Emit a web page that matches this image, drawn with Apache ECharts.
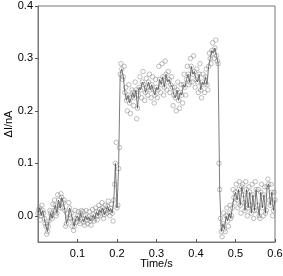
<!DOCTYPE html>
<html><head><meta charset="utf-8">
<script src="https://cdn.jsdelivr.net/npm/echarts@6/dist/echarts.min.js"></script>
<style>html,body{margin:0;padding:0;background:#fff}#c{width:283px;height:276px}</style>
</head><body><div id="c"></div>
<script>
var times = [0.000,0.004,0.008,0.012,0.016,0.020,0.024,0.028,0.032,0.036,0.040,0.044,0.048,0.052,0.056,0.060,0.064,0.068,0.072,0.076,
0.080,0.084,0.088,0.092,0.096,0.100,0.104,0.108,0.112,0.116,0.120,0.124,0.128,0.132,0.136,0.140,0.144,0.148,0.152,0.156,
0.160,0.164,0.168,0.172,0.176,0.180,0.184,0.188,0.192,0.196,0.200,0.204,0.208,0.212,0.216,0.220,0.224,0.228,0.232,0.236,
0.240,0.244,0.248,0.252,0.256,0.260,0.264,0.268,0.272,0.276,0.280,0.284,0.288,0.292,0.296,0.300,0.304,0.308,0.312,0.316,
0.320,0.324,0.328,0.332,0.336,0.340,0.344,0.348,0.352,0.356,0.360,0.364,0.368,0.372,0.376,0.380,0.384,0.388,0.392,0.396,
0.400,0.404,0.408,0.412,0.416,0.420,0.424,0.428,0.432,0.436,0.440,0.444,0.448,0.452,0.456,0.460,0.464,0.468,0.472,0.476,
0.480,0.484,0.488,0.492,0.496,0.500,0.504,0.508,0.512,0.516,0.520,0.524,0.528,0.532,0.536,0.540,0.544,0.548,0.552,0.556,
0.560,0.564,0.568,0.572,0.576,0.580,0.584,0.588,0.592,0.596,0.600];
var current = [0.005,0.015,0.000,0.010,-0.005,-0.020,-0.030,-0.010,0.005,-0.005,0.010,0.020,0.005,0.030,0.015,0.035,0.025,0.010,-0.015,-0.005,
0.015,0.005,-0.010,-0.020,-0.005,0.000,-0.010,0.005,-0.005,-0.012,0.000,-0.008,-0.002,-0.010,-0.005,0.002,-0.006,0.008,0.000,0.012,
0.005,0.015,0.002,0.010,0.018,0.008,0.014,0.005,0.030,0.100,0.015,0.090,0.270,0.280,0.265,0.235,0.220,0.230,0.215,0.225,
0.235,0.225,0.240,0.205,0.245,0.240,0.255,0.250,0.235,0.245,0.255,0.240,0.250,0.240,0.230,0.245,0.240,0.260,0.250,0.265,
0.245,0.270,0.255,0.260,0.250,0.245,0.230,0.225,0.240,0.220,0.235,0.230,0.250,0.245,0.260,0.270,0.255,0.285,0.270,0.275,
0.260,0.255,0.270,0.240,0.255,0.250,0.265,0.250,0.285,0.300,0.315,0.310,0.320,0.305,0.290,0.050,-0.030,-0.015,-0.025,0.000,
-0.010,0.005,-0.005,0.015,0.035,0.045,0.030,0.050,0.020,0.055,0.040,0.010,0.050,0.015,0.045,0.005,0.040,0.010,0.050,0.020,
0.000,0.045,0.015,0.040,0.005,0.055,0.060,0.020,0.045,0.010,0.030];
var rawTimes = [0.002,0.006,0.010,0.014,0.018,0.022,0.026,0.030,0.034,0.038,0.042,0.046,0.050,0.054,0.058,0.062,0.066,0.070,0.074,0.078,
0.082,0.086,0.090,0.094,0.098,0.102,0.106,0.110,0.114,0.118,0.122,0.126,0.130,0.134,0.138,0.142,0.146,0.150,0.154,0.158,
0.162,0.166,0.170,0.174,0.178,0.182,0.186,0.190,0.194,0.198,0.202,0.206,0.210,0.214,0.218,0.222,0.226,0.230,0.234,0.238,
0.242,0.246,0.250,0.254,0.258,0.262,0.266,0.270,0.274,0.278,0.282,0.286,0.290,0.294,0.298,0.302,0.306,0.310,0.314,0.318,
0.322,0.326,0.330,0.334,0.338,0.342,0.346,0.350,0.354,0.358,0.362,0.366,0.370,0.374,0.378,0.382,0.386,0.390,0.394,0.398,
0.402,0.406,0.410,0.414,0.418,0.422,0.426,0.430,0.434,0.438,0.442,0.446,0.450,0.454,0.458,0.462,0.466,0.470,0.474,0.478,
0.482,0.486,0.490,0.494,0.498,0.502,0.506,0.510,0.514,0.518,0.522,0.526,0.530,0.534,0.538,0.542,0.546,0.550,0.554,0.558,
0.562,0.566,0.570,0.574,0.578,0.582,0.586,0.590,0.594,0.598];
var rawCurrent = [0.012,-0.008,0.020,0.005,-0.015,-0.035,-0.020,0.010,0.000,0.022,0.030,0.000,0.040,0.020,0.042,0.015,0.030,-0.020,0.005,0.025,
-0.005,-0.020,-0.028,0.010,-0.012,0.008,-0.015,0.010,0.008,-0.018,0.010,-0.015,0.008,-0.018,0.012,-0.010,0.015,-0.008,0.020,0.000,
0.025,-0.005,0.020,0.005,0.028,0.000,0.022,-0.010,0.060,0.140,0.020,0.130,0.290,0.260,0.285,0.245,0.200,0.250,0.195,0.240,
0.210,0.255,0.185,0.230,0.265,0.225,0.275,0.220,0.262,0.230,0.270,0.225,0.265,0.215,0.260,0.225,0.285,0.235,0.290,0.230,
0.295,0.240,0.275,0.235,0.265,0.210,0.245,0.200,0.255,0.205,0.250,0.215,0.270,0.230,0.285,0.250,0.300,0.255,0.305,0.245,
0.280,0.235,0.290,0.225,0.270,0.235,0.280,0.240,0.310,0.290,0.330,0.300,0.335,0.295,0.100,-0.005,-0.040,0.005,-0.030,0.015,
-0.020,0.020,0.000,0.050,0.025,0.060,0.015,0.065,0.005,0.060,0.025,0.065,0.000,0.055,0.020,0.060,-0.005,0.065,0.010,0.050,
-0.005,0.060,0.000,0.055,0.010,0.070,0.030,0.060,0.000,0.045];
var xTicks = [0.1,0.2,0.3,0.4,0.5,0.6];
var yTicks = [0.0,0.1,0.2,0.3,0.4];

var pts = times.map(function(t,i){return [t,current[i]];});
var rawPts = rawTimes.map(function(t,i){return [t,rawCurrent[i]];});
var chart = echarts.init(document.getElementById('c'));
var font = 'Liberation Sans, Arial, sans-serif';
var ring = {color:'rgba(0,0,0,0)',borderColor:'#8a8a8a',borderWidth:0.7};
chart.setOption({
  animation:false,
  grid:{left:38,right:8,top:6,bottom:34,containLabel:false,outerBoundsMode:'none',show:true,borderColor:'#777',borderWidth:1},
  xAxis:{type:'value',min:0,max:0.6,name:'Time/s',nameLocation:'middle',nameGap:16,nameMoveOverlap:false,
    nameTextStyle:{fontFamily:font,fontSize:11,color:'#000'},
    axisLine:{show:true,onZero:false,lineStyle:{color:'#777'}},splitLine:{show:false},
    axisTick:{show:true,inside:true,length:3,customValues:xTicks,lineStyle:{color:'#555'}},
    axisLabel:{customValues:xTicks,fontFamily:font,fontSize:11,color:'#000',margin:6,formatter:function(v){return v.toFixed(1);}}},
  yAxis:{type:'value',min:-0.05,max:0.4,name:'\u0394I/nA',nameLocation:'middle',nameGap:24,nameRotate:90,nameMoveOverlap:false,
    nameTextStyle:{fontFamily:font,fontSize:11,color:'#000'},
    axisLine:{show:true,onZero:false,lineStyle:{color:'#777'}},splitLine:{show:false},
    axisTick:{show:true,inside:false,length:3,customValues:yTicks,lineStyle:{color:'#555'}},
    axisLabel:{customValues:yTicks,fontFamily:font,fontSize:11,color:'#000',margin:5,formatter:function(v){return v.toFixed(1);}}},
  series:[
    {type:'scatter',data:rawPts,symbol:'circle',symbolSize:4.5,z:2,itemStyle:ring},
    {type:'scatter',data:pts,symbol:'circle',symbolSize:4.5,z:2,itemStyle:ring},
    {type:'line',data:pts,symbol:'none',z:3,lineStyle:{color:'#444',width:0.7}}]
});
</script></body></html>
